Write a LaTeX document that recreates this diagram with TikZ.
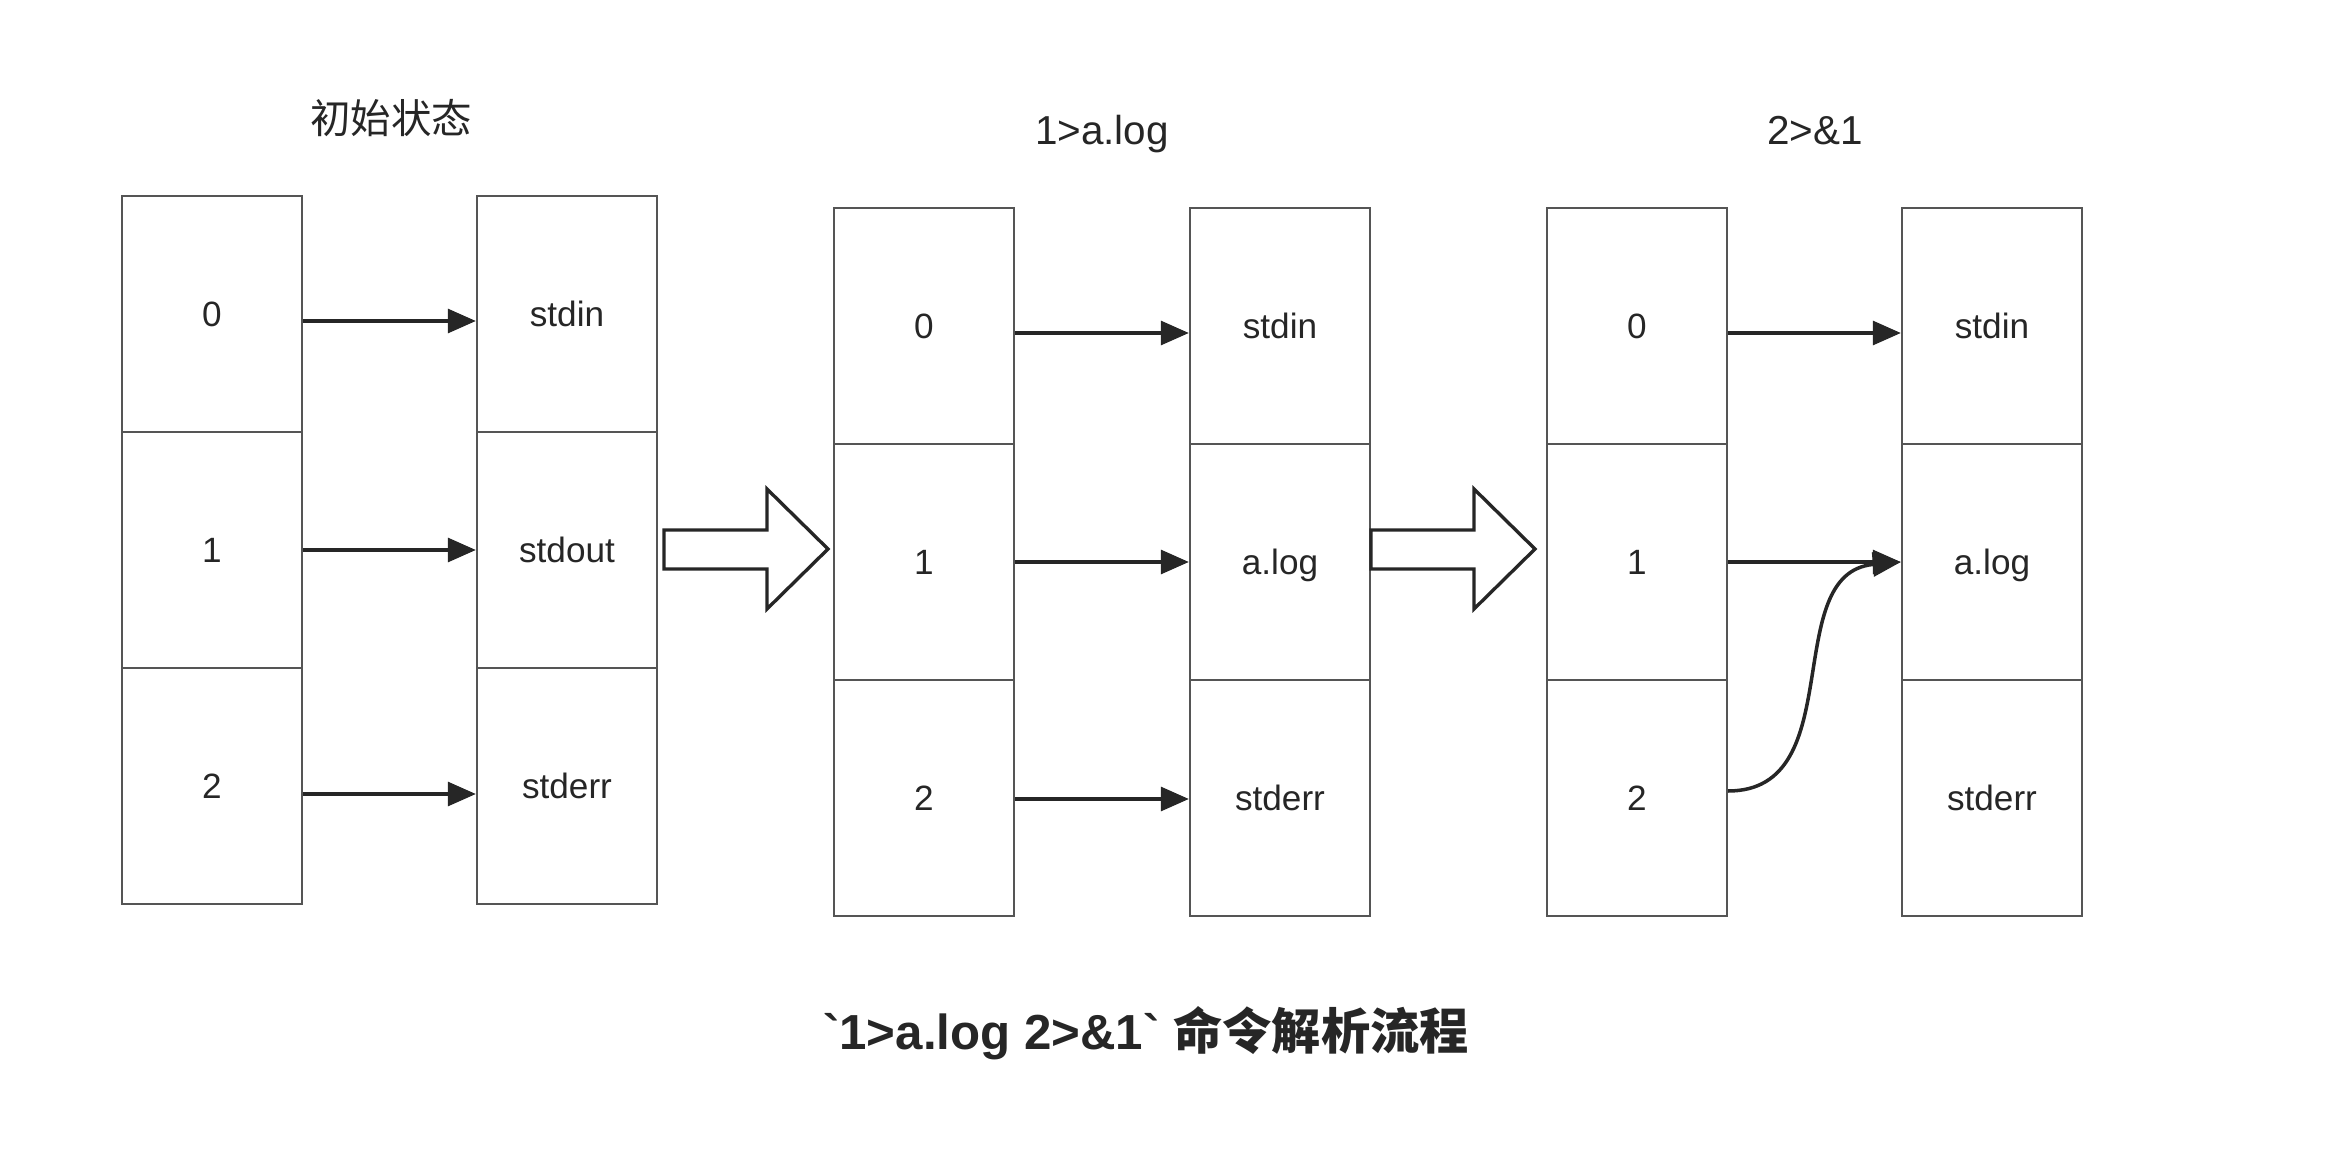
\documentclass[tikz,border=0pt]{standalone}
\usepackage{fontspec}
\setmainfont{Liberation Sans}
\newfontfamily\cjk{Noto Sans CJK SC}
\newfontfamily\lat{Liberation Sans}[Ligatures=TeXOff]
\usetikzlibrary{arrows.meta}
\definecolor{bordo}{HTML}{555555}
\definecolor{inchiostro}{HTML}{262626}
\tikzset{
  cella/.style={draw=bordo, line width=0.6pt, minimum width=1.8cm, minimum height=2.36cm,
    inner sep=0pt, text height=0.716em, text depth=0pt, text=inchiostro,
    font=\fontsize{10}{12}\selectfont},
  titolo/.style={inner sep=0pt, text height=0.716em, text depth=0pt, text=inchiostro,
    font=\fontsize{11.5}{14}\selectfont},
  didascalia/.style={inner sep=0pt, text height=0.716em, text depth=0pt, text=inchiostro,
    font=\fontsize{14}{17}\selectfont\bfseries},
  freccia/.style={draw=inchiostro, line width=1pt, -{Triangle[length=8pt,width=6.8pt]}},
  grossa/.style={draw=inchiostro, line width=0.95pt, line join=miter, fill=white}
}
\begin{document}
\begin{tikzpicture}[x=0.01cm, y=-0.01cm]
    \useasboundingbox (0,0) rectangle (2332,1170);

    % Titoli
    \node[titolo] (t1) at (391,121) {\cjk 初始状态};
    \node[titolo] (t2) at (1102,132) {1>a.log};
    \node[titolo] (t3) at (1815,132) {2>\&1};

    % Colonne dei descrittori
    \foreach \g/\x/\y in {1/212/314, 2/924/326, 3/1637/326} {
        \foreach \r in {0,1,2} {
            \node[cella] (fd\g\r) at (\x,{\y+236*\r}) {\r};
        }
    }

    % Colonne dei file
    \foreach \g/\x/\y/\lbl in {1/567/314/stdout, 2/1280/326/a.log, 3/1992/326/a.log} {
        \node[cella] (f\g0) at (\x,\y) {stdin};
        \node[cella] (f\g1) at (\x,{\y+236}) {\lbl};
        \node[cella] (f\g2) at (\x,{\y+472}) {stderr};
    }

    % Frecce fd -> file
    \foreach \g in {1,2,3} {
        \draw[freccia] ([yshift=-0.07cm]fd\g0.east) -- ([yshift=-0.07cm]f\g0.west);
        \draw[freccia] (fd\g1) -- (f\g1);
    }
    \draw[freccia] ([yshift=-0.08cm]fd12.east) -- ([yshift=-0.08cm]f12.west);
    \draw[freccia] ([yshift=-0.01cm]fd22.east) -- ([yshift=-0.01cm]f22.west);
    \draw[freccia] ([yshift=0.07cm]fd32.east) to[out=0, in=185, looseness=1.1] (f31.west);

    % Frecce grandi tra gli stati
    \foreach \x in {664, 1371} {
        \draw[grossa] (\x,530) -- (\x+103,530) -- (\x+103,489) -- (\x+164,549)
            -- (\x+103,609) -- (\x+103,569) -- (\x,569) -- cycle;
    }

    % Didascalia
    \node[didascalia] (cap) at (1146,1037)
        {\lat\bfseries `1>a.log 2>\&1` {\cjk 命令解析流程}};
\end{tikzpicture}
\end{document}
